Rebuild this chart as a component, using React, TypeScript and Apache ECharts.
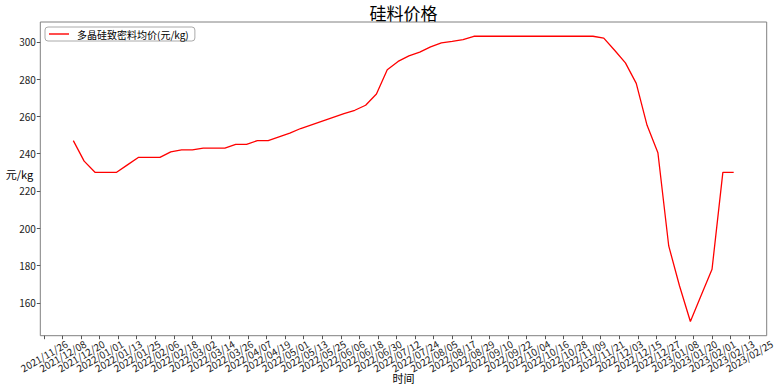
import React, { useEffect, useRef } from "react";
import * as echarts from "echarts";

const dates = [
  "2021-12-15", "2021-12-22", "2021-12-29", "2022-01-05", "2022-01-12", "2022-01-19", "2022-01-26",
  "2022-02-02", "2022-02-09", "2022-02-16", "2022-02-23", "2022-03-02", "2022-03-09", "2022-03-16",
  "2022-03-23", "2022-03-30", "2022-04-06", "2022-04-13", "2022-04-20", "2022-04-27", "2022-05-04",
  "2022-05-11", "2022-05-18", "2022-05-25", "2022-06-01", "2022-06-08", "2022-06-15", "2022-06-22",
  "2022-06-29", "2022-07-06", "2022-07-13", "2022-07-20", "2022-07-27", "2022-08-03", "2022-08-10",
  "2022-08-17", "2022-08-24", "2022-08-31", "2022-09-07", "2022-09-14", "2022-09-21", "2022-09-28",
  "2022-10-05", "2022-10-12", "2022-10-19", "2022-10-26", "2022-11-02", "2022-11-09", "2022-11-16",
  "2022-11-23", "2022-11-30", "2022-12-07", "2022-12-14", "2022-12-21", "2022-12-28", "2023-01-04",
  "2023-01-11", "2023-01-18", "2023-01-25", "2023-02-01", "2023-02-08", "2023-02-15",
];

const prices = [
  247, 236, 230, 230, 230, 234, 238,
  238, 238, 241, 242, 242, 243, 243,
  243, 245, 245, 247, 247, 249, 251,
  253.5, 255.5, 257.5, 259.5, 261.5, 263.3, 266,
  272, 285, 289.5, 292.5, 294.5, 297.3, 299.5,
  300.3, 301.2, 303, 303, 303, 303, 303,
  303, 303, 303, 303, 303, 303, 303,
  302, 295.5, 288.7, 277.7, 255.2, 240.5, 190.5,
  169, 150, 164, 178, 230, 230,
];

const xTickLabels = [
  "2021/11/26", "2021/12/08", "2021/12/20", "2022/01/01", "2022/01/13", "2022/01/25", "2022/02/06",
  "2022/02/18", "2022/03/02", "2022/03/14", "2022/03/26", "2022/04/07", "2022/04/19", "2022/05/01",
  "2022/05/13", "2022/05/25", "2022/06/06", "2022/06/18", "2022/06/30", "2022/07/12", "2022/07/24",
  "2022/08/05", "2022/08/17", "2022/08/29", "2022/09/10", "2022/09/22", "2022/10/04", "2022/10/16",
  "2022/10/28", "2022/11/09", "2022/11/21", "2022/12/03", "2022/12/15", "2022/12/27", "2023/01/08",
  "2023/01/20", "2023/02/01", "2023/02/13", "2023/02/25",
];

const yTicks = [160, 180, 200, 220, 240, 260, 280, 300];

const seriesName = "多晶硅致密料均价(元/kg)";
const titleText = "硅料价格";
const xName = "时间";
const yName = "元/kg";

const toDay = (s: string) => {
  const [y, m, d] = s.split(/[-/]/).map(Number);
  return Date.UTC(y, m - 1, d) / 86400000;
};

const FONT = "'Noto Sans CJK SC', 'Noto Sans', sans-serif";

export default function App() {
  const ref = useRef<HTMLDivElement>(null);
  useEffect(() => {
    if (!ref.current) return;
    const chart = echarts.init(ref.current, undefined, { renderer: "svg" });
    const xs = dates.map(toDay);
    const x0 = Math.min(...xs);
    const x1 = Math.max(...xs);
    const xPad = (x1 - x0) * 0.05;
    const yLo = Math.min(...prices);
    const yHi = Math.max(...prices);
    const yPad = (yHi - yLo) * 0.05;
    const tickDays = xTickLabels.map(toDay);
    const labelMap = new Map<number, string>();
    tickDays.forEach((d, i) => labelMap.set(d, xTickLabels[i]));
    const evenTicks = tickDays.filter((_, i) => i % 2 === 0);
    const oddTicks = tickDays.filter((_, i) => i % 2 === 1);

    const makeXAxis = (ticks: number[]) => ({
      type: "value",
      position: "bottom",
      min: x0 - xPad,
      max: x1 + xPad,
      axisLine: { show: false },
      splitLine: { show: false },
      axisTick: {
        show: true,
        customValues: ticks,
        length: 3.5,
        lineStyle: { color: "#555" },
      },
      axisLabel: {
        customValues: ticks,
        formatter: (v: number) => labelMap.get(Math.round(v)) ?? "",
        rotate: 30,
        align: "center",
        verticalAlign: "middle",
        margin: 20,
        fontSize: 10,
        color: "#222",
        fontFamily: FONT,
        showMinLabel: true,
        showMaxLabel: true,
        hideOverlap: false,
      },
    });

    chart.setOption({
      animation: false,
      backgroundColor: "#ffffff",
      textStyle: { fontFamily: FONT },
      title: {
        text: titleText,
        left: 403.5,
        top: 4,
        padding: 0,
        textAlign: "center",
        textStyle: { fontSize: 17, fontWeight: "normal", color: "#000", fontFamily: FONT },
      },
      legend: {
        data: [seriesName],
        left: 45,
        top: 27,
        padding: [2, 6, 2, 4],
        borderColor: "#aaaaaa",
        borderWidth: 1,
        borderRadius: 3,
        icon: "rect",
        itemWidth: 20,
        itemHeight: 1.4,
        textStyle: { fontSize: 10, color: "#000", fontFamily: FONT, padding: [0, 0, 0, 3] },
      },
      grid: {
        left: 40.3,
        right: 14.3,
        top: 22,
        bottom: 53.3,
        show: true,
        borderColor: "#808080",
        borderWidth: 1,
        outerBoundsMode: "none",
      },
      graphic: [
        {
          type: "text",
          x: 19.5,
          y: 174,
          style: {
            text: yName,
            align: "center",
            verticalAlign: "middle",
            fontSize: 11,
            fill: "#000",
            fontFamily: FONT,
          },
        },
        {
          type: "text",
          x: 403.5,
          y: 378,
          style: {
            text: xName,
            align: "center",
            verticalAlign: "middle",
            fontSize: 11,
            fill: "#000",
            fontFamily: FONT,
          },
        },
      ],
      xAxis: [makeXAxis(evenTicks), makeXAxis(oddTicks)],
      yAxis: {
        type: "value",
        min: yLo - yPad,
        max: yHi + yPad,
        axisLine: { show: false },
        splitLine: { show: false },
        axisTick: {
          show: true,
          customValues: yTicks,
          length: 3.5,
          lineStyle: { color: "#555" },
        },
        axisLabel: {
          customValues: yTicks,
          margin: 4.5,
          fontSize: 10,
          color: "#222",
          fontFamily: FONT,
        },
      },
      series: [
        {
          name: seriesName,
          type: "line",
          xAxisIndex: 0,
          data: xs.map((x, i) => [x, prices[i]]),
          symbol: "none",
          showSymbol: false,
          lineStyle: { color: "#ff0000", width: 1.3 },
          itemStyle: { color: "#ff0000" },
        },
      ],
    });
    return () => chart.dispose();
  }, []);
  return (
    <div
      ref={ref}
      style={{ position: "fixed", left: 0, top: 0, width: 781, height: 389, background: "#fff" }}
    />
  );
}
